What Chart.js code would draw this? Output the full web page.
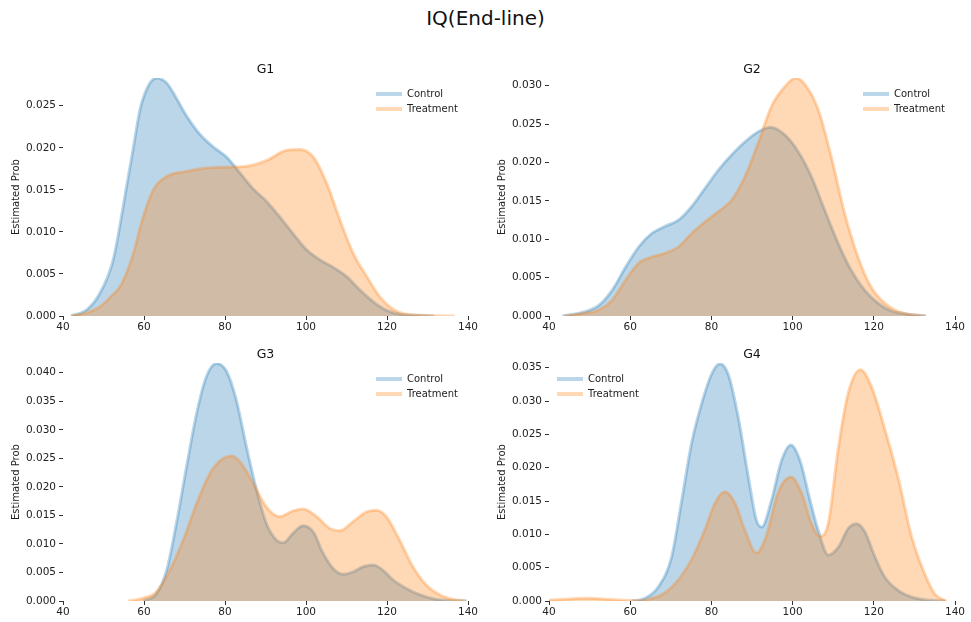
<!DOCTYPE html>
<html>
<head>
<meta charset="utf-8">
<script src="https://cdn.jsdelivr.net/npm/chart.js@4/dist/chart.umd.min.js"></script>
<style>
  body { margin: 0; background: #fff; width: 971px; height: 622px; overflow: hidden; position: relative; font-family: 'DejaVu Sans', sans-serif; }
  #title { position: absolute; left: 0; top: 5px; width: 971px; text-align: center; font-size: 20px; line-height: 26px; color: #111; }
  .panel { position: absolute; }
</style>
</head>
<body>
<div id="title">IQ(End-line)</div>
<div class="panel" style="left:0px;top:50px;width:480px;height:285px"><canvas id="g1"></canvas></div>
<div class="panel" style="left:486px;top:50px;width:485px;height:285px"><canvas id="g2"></canvas></div>
<div class="panel" style="left:0px;top:335px;width:480px;height:287px"><canvas id="g3"></canvas></div>
<div class="panel" style="left:486px;top:335px;width:485px;height:287px"><canvas id="g4"></canvas></div>
<script>
// estimated density curves
const g1ControlX = [42, 46, 49.1, 52.4, 55.7, 57.4, 59, 61.1, 63.1, 65.6, 68, 70.5, 73.8, 77.1, 80.4, 83.7, 87, 90.3, 93.5, 96.8, 100.1, 103.4, 106.7, 110, 113.3, 116.6, 119.8, 123.1, 126.4, 131.6];
const g1ControlY = [0, 0.0008, 0.0027, 0.0067, 0.0154, 0.0201, 0.0245, 0.0274, 0.0283, 0.0277, 0.0259, 0.0238, 0.0216, 0.0201, 0.0189, 0.0170, 0.0151, 0.0136, 0.0118, 0.0098, 0.0079, 0.0067, 0.0058, 0.0047, 0.0031, 0.0017, 0.0007, 0.0002, 0.0001, 0];
const g1TreatX = [42, 46, 49.1, 52, 54.1, 56, 57.4, 59.8, 62.3, 65.6, 70.5, 75.5, 80.4, 85.3, 90.3, 95.2, 98.5, 101.8, 105.1, 108.4, 111.7, 115, 118.2, 121.5, 124.8, 128.1, 132, 136.7];
const g1TreatY = [0, 0.0004, 0.0011, 0.0024, 0.0035, 0.0055, 0.0075, 0.0118, 0.0150, 0.0166, 0.0172, 0.0176, 0.0177, 0.0178, 0.0185, 0.0197, 0.0198, 0.0189, 0.0158, 0.0114, 0.0074, 0.0047, 0.0023, 0.0008, 0.0002, 0.0001, 0.00003, 0];

const g2ControlX = [43.3, 49.1, 52.3, 55.6, 58.9, 62.1, 65.4, 68.7, 71.9, 75.2, 78.5, 81.7, 85, 88.3, 91.5, 94.5, 98.1, 101.4, 104.6, 107.9, 111.2, 114.4, 117.7, 121, 124.2, 127.5, 132.8];
const g2ControlY = [0, 0.0006, 0.0014, 0.0034, 0.0064, 0.0090, 0.0108, 0.0117, 0.0125, 0.0143, 0.0167, 0.0190, 0.0210, 0.0227, 0.0240, 0.0246, 0.0236, 0.0214, 0.0182, 0.0138, 0.0095, 0.0060, 0.0034, 0.0017, 0.0007, 0.0003, 0];
const g2TreatX = [43.8, 48, 52.3, 55.6, 58.9, 62.1, 65.4, 68.7, 71.9, 75.2, 78.5, 81.7, 85, 88.3, 91.5, 94.8, 98.1, 100.8, 103, 106.3, 109.5, 112.8, 116.1, 119.3, 122.6, 125.9, 129.1, 132.8];
const g2TreatY = [0, 0.0003, 0.0008, 0.0021, 0.0047, 0.0069, 0.0077, 0.0082, 0.0090, 0.0108, 0.0123, 0.0136, 0.0151, 0.0182, 0.0225, 0.0273, 0.0299, 0.0310, 0.0302, 0.0269, 0.0208, 0.0134, 0.0077, 0.0038, 0.0017, 0.0006, 0.0002, 0];

const g3ControlX = [59.8, 63.1, 65.6, 68, 70.5, 73, 75.4, 77.9, 80.4, 82.8, 85.3, 87.8, 90.2, 92.7, 94.4, 96.8, 99.3, 101.8, 104.2, 106.7, 109.2, 111.6, 114.1, 116.6, 119, 121.5, 124.8, 128.1, 131.4, 135, 139.6];
const g3ControlY = [0, 0.0013, 0.0054, 0.0136, 0.0235, 0.0329, 0.0393, 0.0416, 0.0402, 0.0352, 0.0270, 0.0194, 0.0136, 0.0107, 0.0102, 0.0119, 0.0132, 0.0121, 0.0084, 0.0057, 0.0047, 0.0051, 0.0060, 0.0063, 0.0054, 0.0037, 0.0022, 0.0011, 0.0004, 0.0001, 0];
const g3TreatX = [56.1, 59.8, 63.1, 66.4, 69.7, 73, 76.3, 79.6, 81.6, 83.7, 87, 90.2, 93.5, 96.8, 99.3, 102.6, 105.9, 108.3, 111.6, 114.9, 117.4, 119.8, 123.1, 126.4, 129.7, 133, 136.3, 139.6];
const g3TreatY = [0, 0.0005, 0.0016, 0.0054, 0.0107, 0.0171, 0.0224, 0.0250, 0.0254, 0.0244, 0.0206, 0.0165, 0.0148, 0.0158, 0.0161, 0.0148, 0.0127, 0.0123, 0.0139, 0.0156, 0.0159, 0.0148, 0.0107, 0.0060, 0.0028, 0.0011, 0.0003, 0];

const g4ControlX = [60.4, 63.6, 66.9, 70.2, 72.7, 75.1, 77.6, 80.1, 82.1, 84.2, 86.6, 89.1, 91.1, 92.4, 94.8, 97.3, 99.6, 101.8, 104.3, 106.3, 108.8, 111.3, 113.7, 115.8, 117.8, 120.3, 122.7, 126, 129.3, 132.6, 137.5];
const g4ControlY = [0, 0.0004, 0.0021, 0.0066, 0.0151, 0.0236, 0.0296, 0.0341, 0.0356, 0.0339, 0.0276, 0.0186, 0.0121, 0.0111, 0.0151, 0.0211, 0.0234, 0.0211, 0.0151, 0.0106, 0.0069, 0.0081, 0.0109, 0.0116, 0.0104, 0.0066, 0.0036, 0.0016, 0.0006, 0.0002, 0];
const g4TreatX = [40, 44.8, 49.7, 54.6, 58.7, 62, 65.3, 68.5, 71.9, 75.1, 78.4, 80.9, 83.3, 85.8, 88.2, 91.1, 93.5, 96.4, 99.6, 102.2, 104.6, 106.7, 108.8, 111.2, 113.7, 116.7, 119.4, 122.7, 126, 129.3, 132.6, 135.1, 137.9];
const g4TreatY = [0.00015, 0.0003, 0.0004, 0.00025, 0.0001, 0.00005, 0.0004, 0.0012, 0.0032, 0.0062, 0.0107, 0.0147, 0.0164, 0.0147, 0.0107, 0.0072, 0.0097, 0.0162, 0.0186, 0.0162, 0.0117, 0.0097, 0.0117, 0.0227, 0.0312, 0.0347, 0.0322, 0.0258, 0.0185, 0.0097, 0.0040, 0.0010, 0];

const xTicks = [40, 60, 80, 100, 120, 140];
const seriesNames = ['Control', 'Treatment'];

Chart.defaults.font.family = "'DejaVu Sans', sans-serif";
Chart.defaults.color = '#222';

const blue = 'rgba(31, 119, 180, 0.3)';
const orange = 'rgba(255, 127, 14, 0.3)';

function pts(xs, ys) {
  return xs.map((x, i) => ({ x: x, y: ys[i] }));
}

function kdeSet(label, xs, ys, color) {
  return {
    label: label,
    data: pts(xs, ys),
    borderColor: color,
    backgroundColor: color,
    borderWidth: 3,
    pointRadius: 0,
    pointHoverRadius: 0,
    pointBorderWidth: 4,
    pointBorderColor: color,
    fill: 'origin',
    cubicInterpolationMode: 'monotone'
  };
}

// move the legend inside the plot area
const legendSpot = {
  id: 'legendSpot',
  afterLayout(chart, args, opts) {
    const lg = chart.legend;
    const area = chart.chartArea;
    const w = lg.width, h = lg.height;
    lg.left = area.left + opts.dx;
    lg.right = lg.left + w;
    lg.top = area.top + opts.dy;
    lg.bottom = lg.top + h;
  }
};

function makePanel(id, name, control, treat, yMax, padRight, xHeight, legendDx) {
  const ctx = document.getElementById(id).getContext('2d');
  return new Chart(ctx, {
    type: 'line',
    data: {
      // treatment first so that it is drawn on top of control
      datasets: [
        kdeSet(seriesNames[1], treat[0], treat[1], orange),
        kdeSet(seriesNames[0], control[0], control[1], blue)
      ]
    },
    plugins: [legendSpot],
    options: {
      responsive: true,
      maintainAspectRatio: false,
      animation: false,
      layout: { padding: { left: 0, right: padRight, top: 0, bottom: 0 } },
      plugins: {
        title: {
          display: true,
          text: name,
          fullSize: false,
          color: '#111',
          font: { size: 12.5, weight: 'normal' },
          padding: { top: 12.5, bottom: 0.5 }
        },
        legend: {
          display: true,
          position: 'chartArea',
          align: 'start',
          reverse: true,
          labels: {
            usePointStyle: true,
            pointStyle: 'line',
            pointStyleWidth: 26,
            boxHeight: 10,
            padding: 5,
            color: '#222',
            font: { size: 10 }
          }
        },
        legendSpot: { dx: legendDx, dy: 6 },
        tooltip: { enabled: false }
      },
      scales: {
        x: {
          type: 'linear',
          min: 40,
          max: 140,
          afterFit: (s) => { s.height = xHeight; },
          afterBuildTicks: (s) => { s.ticks = xTicks.map(v => ({ value: v })); },
          border: { display: false },
          grid: { drawOnChartArea: false, drawTicks: true, tickLength: 4, color: '#333' },
          ticks: { padding: 1, maxRotation: 0, font: { size: 10.5 }, color: '#222' }
        },
        y: {
          min: 0,
          max: yMax,
          afterFit: (s) => { s.width = 63; },
          border: { display: false },
          grid: { drawOnChartArea: false, drawTicks: true, tickLength: 4, color: '#333' },
          title: { display: true, text: 'Estimated Prob', font: { size: 10 }, color: '#222', padding: { top: 10, bottom: 0 } },
          ticks: {
            stepSize: 0.005,
            includeBounds: false,
            padding: 3,
            font: { size: 10.5 },
            color: '#222',
            callback: (v) => v.toFixed(3)
          }
        }
      }
    }
  });
}

makePanel('g1', 'G1', [g1ControlX, g1ControlY], [g1TreatX, g1TreatY], 0.0283, 12, 19, 308);
makePanel('g2', 'G2', [g2ControlX, g2ControlY], [g2TreatX, g2TreatY], 0.0310, 16, 19, 309);
makePanel('g3', 'G3', [g3ControlX, g3ControlY], [g3TreatX, g3TreatY], 0.0417, 12, 21, 308);
makePanel('g4', 'G4', [g4ControlX, g4ControlY], [g4TreatX, g4TreatY], 0.0357, 16, 21, 3);
</script>
</body>
</html>
